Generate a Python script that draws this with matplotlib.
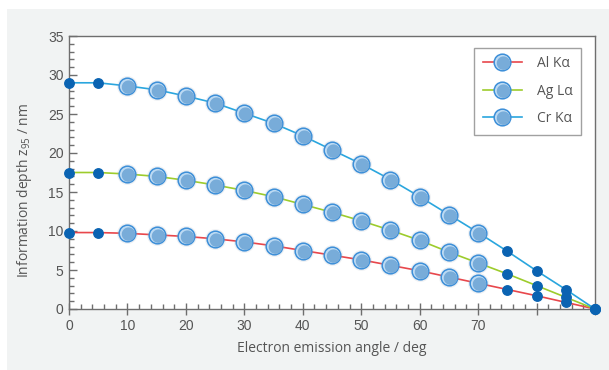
import matplotlib
matplotlib.use("Agg")
import matplotlib.pyplot as plt
import numpy as np
from matplotlib.path import Path
from matplotlib.markers import MarkerStyle
from matplotlib.lines import Line2D
from matplotlib.legend_handler import HandlerTuple
from matplotlib.patches import Rectangle

# ---- data ----
angles = [0, 5, 10, 15, 20, 25, 30, 35, 40, 45, 50, 55, 60, 65, 70, 75, 80, 85, 90]
al_ka = [9.8, 9.8, 9.7, 9.5, 9.3, 9.0, 8.6, 8.1, 7.5, 6.9, 6.3, 5.6, 4.9, 4.1, 3.3, 2.5, 1.7, 0.85, 0.0]
ag_la = [17.5, 17.5, 17.3, 17.0, 16.5, 15.9, 15.2, 14.4, 13.4, 12.4, 11.3, 10.1, 8.8, 7.3, 5.9, 4.5, 3.0, 1.5, 0.0]
cr_ka = [29.0, 29.0, 28.6, 28.1, 27.3, 26.4, 25.1, 23.8, 22.2, 20.4, 18.6, 16.6, 14.4, 12.1, 9.8, 7.4, 4.9, 2.5, 0.0]
series_names = ["Al Kα", "Ag Lα", "Cr Kα"]
series_colors = ["#e8474c", "#9dcc2c", "#2aa6de"]
big_marker_angles = [10, 15, 20, 25, 30, 35, 40, 45, 50, 55, 60, 65, 70]
xtick_values = [0, 10, 20, 30, 40, 50, 60, 70, 80, 90]
xtick_labels = ["0", "10", "20", "30", "40", "50", "60", "70", "", ""]
ytick_values = [0, 5, 10, 15, 20, 25, 30, 35]

plt.rcParams['font.family'] = ['Open Sans', 'DejaVu Sans']

fig = plt.figure(figsize=(6.09, 3.70), dpi=100)
fig.patch.set_facecolor("white")
fig.patches.append(Rectangle((7 / 609, 0), 1, 1 - 9 / 370, transform=fig.transFigure,
                             facecolor="#f1f3f3", edgecolor="none", zorder=-10))

ax = fig.add_axes([69 / 609, 1 - 309 / 370, (595 - 69) / 609, (309 - 36) / 370])
ax.set_facecolor("white")

# glossy marker: darker inner disc shifted to lower right
t = np.linspace(0, 2 * np.pi, 60)
cx, cy = 0.15, -0.10
hl_path = Path(np.column_stack([cx + np.cos(t), cy + np.sin(t)]))
hl_marker = MarkerStyle(hl_path)

BIG = 12.0
SMALL = 6.8
HL = BIG * 0.93
dark_dot = "#0a63b2"
base_face = "#bcdaf3"
base_edge = "#3d8fd8"
inner_face = "#78acd9"

for vals, color in zip([al_ka, ag_la, cr_ka], series_colors):
    ax.plot(angles, vals, color=color, lw=1.2, zorder=2, clip_on=False)
    small_x = [a for a in angles if a not in big_marker_angles]
    small_y = [v for a, v in zip(angles, vals) if a not in big_marker_angles]
    ax.plot(small_x, small_y, ls="none", marker="o", ms=SMALL, mfc=dark_dot, mec=dark_dot,
            zorder=4, clip_on=False)
    big_x = [a for a in angles if a in big_marker_angles]
    big_y = [v for a, v in zip(angles, vals) if a in big_marker_angles]
    ax.plot(big_x, big_y, ls="none", marker="o", ms=BIG + 3, mfc="#a8b4c2", mec="none",
            alpha=0.18, zorder=3)
    ax.plot(big_x, big_y, ls="none", marker="o", ms=BIG, mfc=base_face, mec=base_edge,
            mew=1.1, zorder=4)
    ax.plot(big_x, big_y, ls="none", marker=hl_marker, ms=HL, mfc=inner_face,
            mec="none", zorder=5)

ax.set_xlim(0, 90)
ax.set_ylim(0, 35)

ax.set_xticks(xtick_values)
ax.set_xticklabels(xtick_labels)
ax.set_xticks(np.arange(0, 91, 2), minor=True)
ax.set_yticks(ytick_values)
ax.set_yticks(np.arange(0, 36, 1), minor=True)

spine_color = "#6e6e6e"
for s in ax.spines.values():
    s.set_color(spine_color)
    s.set_linewidth(1.0)

ax.tick_params(axis="x", which="major", direction="inout", length=8, width=1,
               color=spine_color, labelsize=10, labelcolor="#555555", pad=3)
ax.tick_params(axis="x", which="minor", direction="in", length=3.5, width=1, color=spine_color)
ax.tick_params(axis="y", which="major", direction="in", length=6, width=1,
               color=spine_color, labelsize=10, labelcolor="#555555", pad=4)
ax.tick_params(axis="y", which="minor", direction="in", length=3.5, width=1, color=spine_color)
for lab in ax.get_xticklabels() + ax.get_yticklabels():
    lab.set_family(["Liberation Sans", "DejaVu Sans"])

ax.set_xlabel("Electron emission angle / deg", fontsize=10, color="#555555", labelpad=6)
ax.set_ylabel(r"Information depth $\mathregular{z_{95}}$ / nm", fontsize=10,
              color="#555555")
ax.yaxis.set_label_coords(-0.066, 0.435)

handles = []
for color in series_colors:
    h_line = Line2D([], [], color=color, lw=1.2, marker="o", ms=BIG, mfc=base_face,
                    mec=base_edge, mew=1.1)
    h_hl = Line2D([], [], ls="none", marker=hl_marker, ms=HL, mfc=inner_face, mec="none")
    handles.append((h_line, h_hl))

leg = ax.legend(handles, series_names, handler_map={tuple: HandlerTuple(ndivide=1, pad=0)},
                loc="upper right", bbox_to_anchor=((581 - 69) / 526, (309 - 48) / 273),
                borderaxespad=0, frameon=True, fancybox=False, fontsize=10,
                handlelength=2.8, handletextpad=1.1, labelspacing=0.9,
                borderpad=0.6, labelcolor="#555555")
leg.get_frame().set_edgecolor("#8a8a8a")
leg.get_frame().set_linewidth(1.0)

fig.savefig("out.png", dpi=100, facecolor=fig.get_facecolor())
